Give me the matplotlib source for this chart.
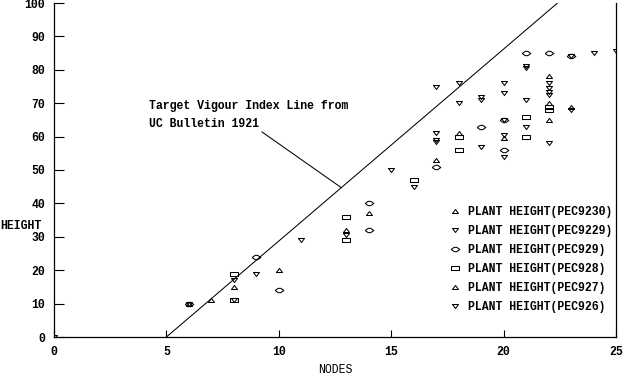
import matplotlib
matplotlib.use('Agg')
import matplotlib.pyplot as plt
from matplotlib.lines import Line2D

plt.rcParams['font.family'] = ['Liberation Mono', 'DejaVu Sans Mono']
plt.rcParams['font.size'] = 8.3
plt.rcParams['font.weight'] = 'bold'

# nodes / height readings per variety
pec9230_nodes = [6, 8, 13, 17, 20, 22, 22]
pec9230_height = [10, 15, 32, 53, 59.5, 78, 65]

pec9229_nodes = [0, 8, 11, 15, 17, 17, 18, 19, 20, 20, 21, 21, 22, 22, 22, 23, 24, 25]
pec9229_height = [0, 17, 29, 50, 75, 61, 76, 72, 76, 65, 81, 71, 76, 74.5, 58, 84, 85, 85.5]

pec929_nodes = [6, 9, 10, 14, 14, 17, 19, 20, 20, 21, 22, 23]
pec929_height = [10, 24, 14, 40, 32, 51, 63, 65, 56, 85, 85, 84]

pec928_nodes = [8, 8, 13, 13, 16, 18, 18, 21, 21, 22, 22]
pec928_height = [19, 11, 36, 29, 47, 60, 56, 66, 60, 69, 68]

pec927_nodes = [7, 10, 14, 18, 22, 23]
pec927_height = [11, 20, 37, 61, 70, 69]

pec926_nodes = [6, 8, 9, 13, 16, 17, 17, 18, 19, 19, 20, 20, 20, 21, 21, 22, 22, 23]
pec926_height = [10, 11, 19, 30.5, 45, 59, 58.5, 70, 71, 57, 73, 60.5, 54, 80.5, 63, 73.5, 72.5, 68]

target_nodes = [5, 22.4]
target_height = [0, 100]

# marker shapes (flattened like the original)
tri_up = [(-1, -0.67), (1, -0.67), (0, 0.67), (-1, -0.67)]
tri_down = [(-1, 0.67), (1, 0.67), (0, -0.67), (-1, 0.67)]
diamond = [(-1, 0), (-0.3, 0.5), (0.3, 0.5), (1, 0), (0.3, -0.5), (-0.3, -0.5), (-1, 0)]
rect = [(-1, -0.53), (1, -0.53), (1, 0.53), (-1, 0.53), (-1, -0.53)]

series = [
    ('PLANT HEIGHT(PEC9230)', pec9230_nodes, pec9230_height, tri_up, 4.3),
    ('PLANT HEIGHT(PEC9229)', pec9229_nodes, pec9229_height, tri_down, 4.3),
    ('PLANT HEIGHT(PEC929)', pec929_nodes, pec929_height, diamond, 6.2),
    ('PLANT HEIGHT(PEC928)', pec928_nodes, pec928_height, rect, 6.1),
    ('PLANT HEIGHT(PEC927)', pec927_nodes, pec927_height, tri_up, 4.3),
    ('PLANT HEIGHT(PEC926)', pec926_nodes, pec926_height, tri_down, 4.3),
]

fig = plt.figure(figsize=(6.24, 3.78), dpi=100)
ax = fig.add_axes([54 / 624, 41 / 378, 562 / 624, 334 / 378])

handles = []
for label, xs, ys, mk, ms in series:
    ax.plot(xs, ys, linestyle='none', marker=mk, markersize=ms,
            markerfacecolor='none', markeredgecolor='black', markeredgewidth=0.75)
    handles.append(Line2D([], [], linestyle='none', marker=mk, markersize=ms,
                          markerfacecolor='none', markeredgecolor='black',
                          markeredgewidth=0.75, label=label))

ax.plot(target_nodes, target_height, color='black', lw=0.75)

# annotation
slope = (target_height[1] - target_height[0]) / (target_nodes[1] - target_nodes[0])
px = 12.78
ax.text(4.23, 69.2, 'Target Vigour Index Line from', va='center', ha='left')
ax.annotate('UC Bulletin 1921', xy=(px, slope * (px - target_nodes[0])),
            xytext=(4.23, 63.8), va='center', ha='left',
            arrowprops=dict(arrowstyle='-', relpos=(1, 0), shrinkA=0, shrinkB=0,
                            lw=0.75, color='black'))

ax.set_xlim(0, 25)
ax.set_ylim(0, 100)
ax.set_xticks(range(0, 26, 5))
ax.set_yticks(range(0, 101, 10))
ax.tick_params(axis='y', direction='in', length=7.2, width=0.8, pad=6.5)
ax.tick_params(axis='x', direction='in', length=5.2, width=0.8, pad=6.5)
ax.spines['top'].set_visible(False)
for s in ['left', 'bottom', 'right']:
    ax.spines[s].set_linewidth(0.9)

ax.set_xlabel('NODES', labelpad=4)
fig.text(0.0, 1 - 226 / 378, 'HEIGHT', va='center', ha='left')

ax.legend(handles=handles, loc='upper left', bbox_to_anchor=(0.695, 0.405),
          frameon=False, handlelength=1.0, handletextpad=0.6, labelspacing=0.6,
          borderpad=0.4, borderaxespad=0)

fig.savefig('out.png', dpi=100)
